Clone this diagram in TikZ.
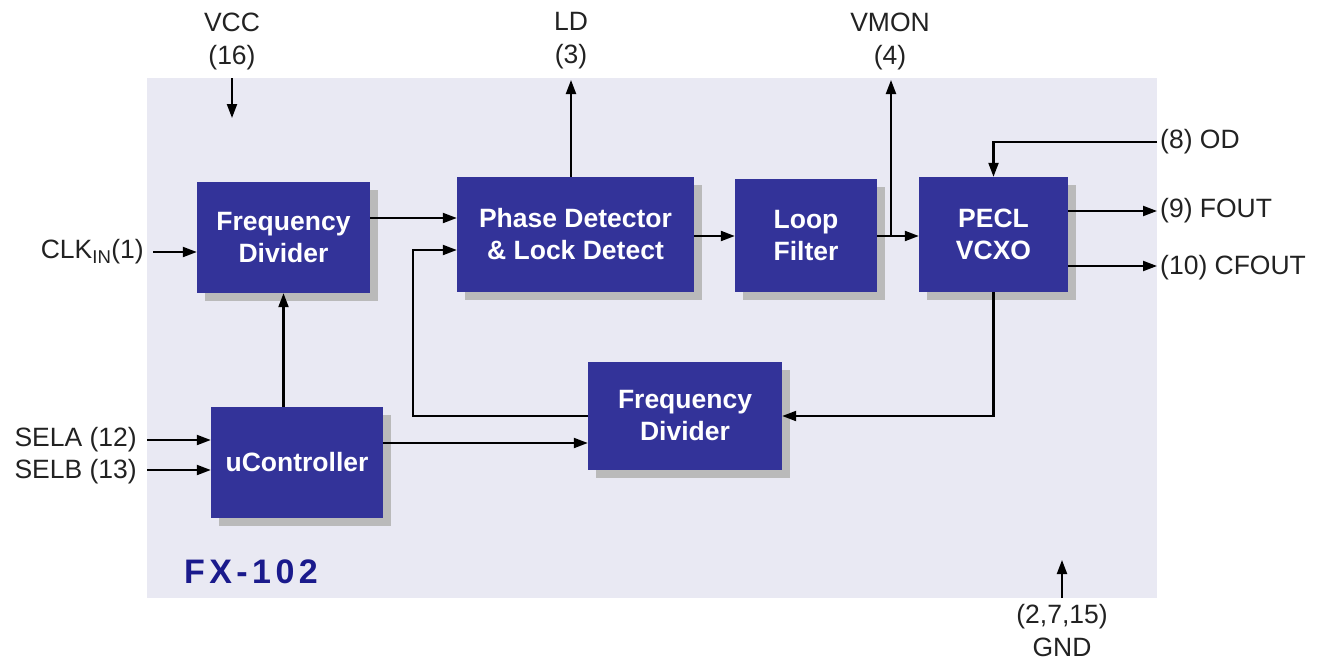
\documentclass[tikz,border=0pt]{standalone}
\usepackage{fontspec}
\setmainfont{Liberation Sans}
\newfontfamily\fxfont[LetterSpace=13]{Liberation Sans}
\usetikzlibrary{arrows.meta,shadows}
\definecolor{panel}{HTML}{E9E9F3}
\definecolor{blk}{HTML}{333399}
\definecolor{fxblue}{HTML}{1A1A8C}
\definecolor{lbltxt}{HTML}{222222}
\tikzset{
  blkbox/.style={fill=blk, draw=none, text=white, font=\fontsize{26.5}{32}\selectfont\bfseries,
    align=center, inner sep=0pt,
    drop shadow={shadow xshift=8pt, shadow yshift=-8pt, fill=black!27, opacity=1}},
  lbl/.style={text=lbltxt, font=\fontsize{26.5}{33}\selectfont, inner sep=0pt, align=center},
  arr/.style={draw=black, line width=2.1pt, -{Triangle[length=14pt,width=10pt]}},
  wire/.style={draw=black, line width=2.1pt}
}
\begin{document}
\begin{tikzpicture}[x=1pt,y=-1pt]
\useasboundingbox (0,0) rectangle (1319,662);
\fill[white] (0,0) rectangle (1319,662);
\fill[panel] (147,78) rectangle (1157,598);

% blocks
\node[blkbox, minimum width=173pt, minimum height=111pt] (fd1) at (283.5,237.5) {Frequency\\Divider};
\node[blkbox, minimum width=237pt, minimum height=115pt] (pd) at (575.5,234.5) {Phase Detector\\\& Lock Detect};
\node[blkbox, minimum width=142pt, minimum height=113pt] (lf) at (806,235.5) {Loop\\Filter};
\node[blkbox, minimum width=149pt, minimum height=115pt] (vcxo) at (993.5,234.5) {PECL\\VCXO};
\node[blkbox, minimum width=194pt, minimum height=108pt] (fd2) at (685,416) {Frequency\\Divider};
\node[blkbox, minimum width=172pt, minimum height=111pt] (uc) at (297,462.5) {uController};

% labels
\node[lbl] (vcc) at (232,41) {VCC\\(16)};
\node[lbl] (ld) at (571,41) {LD\\(3)};
\node[lbl] (vmon) at (890,41) {VMON\\(4)};
\node[lbl] (gnd) at (1062,631) {(2,7,15)\\GND};
\node[lbl, anchor=east] (clk) at (144,252) {CLK\textsubscript{IN}(1)};
\node[lbl, anchor=east] (sela) at (137,440) {SELA (12)};
\node[lbl, anchor=east] (selb) at (137,472) {SELB (13)};
\node[lbl, anchor=west] (od) at (1160,142) {(8) OD};
\node[lbl, anchor=west] (fout) at (1160,211) {(9) FOUT};
\node[lbl, anchor=west] (cfout) at (1160,268) {(10) CFOUT};
\node[anchor=west, inner sep=0pt, text=fxblue, font=\fxfont\fontsize{34}{34}\selectfont\bfseries] (fx) at (184,572) {FX-102};

% free-end coordinates
\coordinate (vccA) at (232,78);
\coordinate (vccB) at (232,118);
\coordinate (ldT) at (571,80);
\coordinate (vmonT) at (891,80);
\coordinate (vmonB) at (891,236);
\coordinate (gndA) at (1062,598);
\coordinate (gndB) at (1062,560);
\coordinate (odR) at (1157,142);
\coordinate (fb) at (413,250);

% connectors
\draw[arr] (vccA) -- (vccB);
\draw[arr] (gndA) -- (gndB);
\draw[arr] ([xshift=9pt]clk.east) -- (clk.east -| fd1.west);
\draw[arr] ([xshift=10pt]sela.east) -- (sela.east -| uc.west);
\draw[arr] ([xshift=10pt,yshift=2pt]selb.east) -- ([yshift=2pt]selb.east -| uc.west);
\draw[arr] ([yshift=19.5pt]fd1.east) -- ([yshift=19.5pt]fd1.east -| pd.west);
\draw[arr] (fd2.west) -| (fb) -- (fb -| pd.west);
\draw[arr] (pd.east |- vmonB) -- (lf.west |- vmonB);
\draw[arr] (lf.east |- vmonB) -- (vcxo.west |- vmonB);
\draw[arr] (vmonB) -- (vmonT);
\draw[arr] (pd.north -| ldT) -- (ldT);
\draw[arr] (odR) -| (vcxo.north);
\draw[arr] (vcxo.east |- fout.west) -- ([xshift=-3pt]fout.west);
\draw[arr] ([yshift=2pt]vcxo.east |- cfout.west) -- ([xshift=-3pt,yshift=2pt]cfout.west);
\draw[arr] (vcxo.south) |- (fd2.east);
\draw[arr] (uc.north -| fd1.south) -- (fd1.south);
\draw[arr] ([yshift=19.5pt]uc.east) -- ([yshift=19.5pt]uc.east -| fd2.west);
\end{tikzpicture}
\end{document}
